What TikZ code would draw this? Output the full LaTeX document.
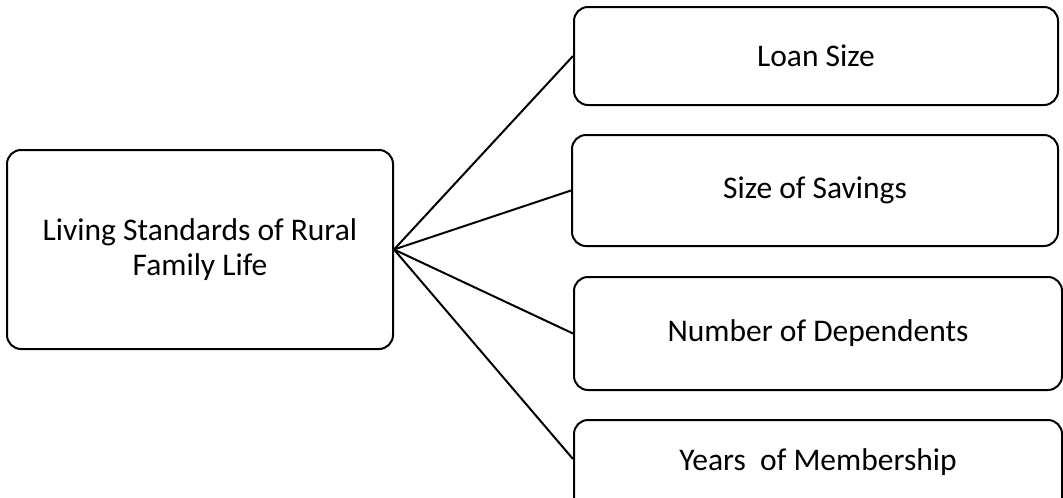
\documentclass[tikz,border=0pt]{standalone}
\usepackage{fontspec}
\setmainfont{Carlito}
\usepackage{tikz}
\usetikzlibrary{positioning}
\tikzset{box/.style = {draw, line width = 2, rounded corners = 14, align = center, inner sep = 0,
    font = \fontsize{31.5}{35}\selectfont}}
\tikzset{link/.style = {line width = 2}}

\begin{document}
\begin{tikzpicture}[x = 1pt, y = -1pt]
    \useasboundingbox (0, 0) rectangle (1063, 498);

    \node [box, minimum width = 386, minimum height = 199] (living) at (200, 249.5)
        {Living Standards of Rural\\Family Life};

    \node [box, minimum width = 484, minimum height = 98] (loan) at (816, 56) {Loan Size};
    \node [box, minimum width = 486, minimum height = 111] (savings) at (815, 190.5) {Size of Savings};
    \node [box, minimum width = 488, minimum height = 113] (dependents) at (818, 333.5) {Number of Dependents};
    \node [box, minimum width = 488, minimum height = 100, text height = 0, text depth = 0]
        (years) at (818, 470) {Years~ of Membership};

    \draw [link] (living.east) -- (loan.west);
    \draw [link] (living.east) -- (savings.west);
    \draw [link] (living.east) -- (dependents.west);
    \draw [link] (living.east) -- ([yshift = 11] years.west);
  \end{tikzpicture}
\end{document}
